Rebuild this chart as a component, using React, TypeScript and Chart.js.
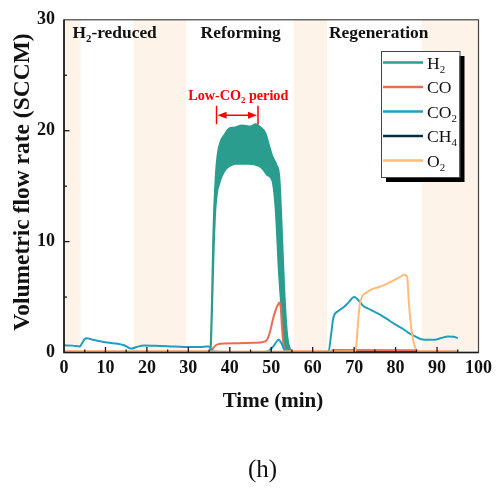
import { useEffect, useRef } from "react";
import { Chart, registerables } from "chart.js";

Chart.register(...registerables);

const FONT = "'Liberation Serif', 'Times New Roman', serif";

// Gas species and their line colours
const seriesNames = ["H2", "CO", "CO2", "CH4", "O2"];
const seriesColors = ["#2a9d8f", "#e76f51", "#219ebc", "#023047", "#ffbb77"];

// Process stages shown across the top
const stageNames = ["H2-reduced", "Reforming", "Regeneration"];

// Shaded transition windows (min)
const shadeStart = [0, 16.8, 55.4, 86.3];
const shadeEnd = [4, 29.5, 63.5, 100];

// H2 flow oscillates rapidly during reforming: upper and lower envelope of the trace
const h2UpperTime = [0, 35.2, 35.6, 36.0, 36.5, 37.0, 37.8, 38.6, 39.8, 41.0, 43.0, 45.0, 46.2, 47.5, 48.6, 49.5, 50.2, 51.3, 52.0, 52.5, 53.0, 53.5, 54.0, 54.6, 55.5, 95];
const h2UpperFlow = [0, 0, 4, 11, 15.5, 17.8, 19.1, 19.6, 20.2, 20.3, 20.5, 20.4, 20.6, 20.3, 19.8, 18.7, 17.8, 16.9, 15.8, 12, 7.3, 3.5, 1.2, 0.3, 0, 0];
const h2LowerTime = [0, 35.4, 35.7, 36.1, 36.5, 37.0, 37.4, 38.0, 39.0, 40.0, 41.4, 44.6, 47.0, 48.0, 49.0, 50.2, 51.0, 51.8, 52.5, 53.0, 53.5, 54.5, 95];
const h2LowerFlow = [0, 0, 3, 8.5, 12.5, 14.5, 15.1, 15.8, 16.5, 16.8, 17.0, 17.0, 16.8, 16.5, 16.0, 15.5, 13, 7.3, 3.5, 0.8, 0.2, 0, 0];

const coTime = [0, 35.5, 36.0, 36.8, 38, 42, 46, 48, 49, 49.8, 50.4, 51.0, 51.6, 52.0, 52.3, 52.6, 53.0, 53.6, 55, 64, 65, 85, 86, 95];
const coFlow = [0.08, 0.08, 0.4, 0.7, 0.8, 0.83, 0.88, 0.95, 1.15, 2.0, 3.0, 3.75, 4.3, 4.5, 4.0, 2.2, 0.6, 0.2, 0.08, 0.08, 0.22, 0.2, 0.08, 0.08];

const co2Time = [0, 2, 3.8, 4.3, 5.0, 5.5, 7, 9, 11, 13, 14.5, 15.5, 16.3, 17.5, 19.5, 22, 25, 29, 32, 34.2, 35.0, 35.6, 36.5, 40, 48, 49.4, 50.5, 51.8, 52.5, 53.4, 54.5, 63.8, 64.4, 65.0, 66.2, 67.5, 68.6, 70.0, 70.8, 72.2, 74, 75.8, 77.8, 79.8, 81.5, 83, 84.7, 86.2, 88, 89.4, 91, 92.6, 94, 95];
const co2Flow = [0.65, 0.62, 0.55, 0.8, 1.22, 1.28, 1.15, 1.0, 0.88, 0.78, 0.65, 0.45, 0.35, 0.5, 0.63, 0.6, 0.57, 0.5, 0.5, 0.53, 0.55, 0.2, 0.08, 0.05, 0.05, 0.15, 0.55, 1.15, 0.8, 0.1, 0.03, 0.03, 1.5, 3.15, 3.75, 4.1, 4.5, 5.0, 4.8, 4.2, 3.85, 3.5, 3.05, 2.55, 2.2, 1.8, 1.45, 1.2, 1.15, 1.15, 1.3, 1.45, 1.42, 1.3];

const ch4Time = [0, 95];
const ch4Flow = [0.02, 0.02];

const o2Time = [0, 70.2, 70.5, 70.9, 71.3, 72.0, 73.0, 74.2, 76.0, 77.4, 79.0, 80.0, 81.0, 82.2, 82.8, 83.2, 83.7, 84.3, 85.0, 86, 95];
const o2Flow = [0.08, 0.08, 0.6, 2.5, 4.2, 5.1, 5.4, 5.7, 5.9, 6.1, 6.4, 6.6, 6.8, 7.0, 6.8, 4.5, 2.5, 1.0, 0.25, 0.08, 0.08];

// Low-CO2 window marker (min, SCCM)
const lowCo2Start = 36.8;
const lowCo2End = 46.8;
const lowCo2Level = 21.4;
const lowCo2Label = "Low-CO2 period";

const SHADE = "#fdf3e8";

function pts(t: number[], v: number[]) {
  return t.map((x, i) => ({ x, y: v[i] }));
}

function chemParts(text: string) {
  const parts: { t: string; sub: boolean }[] = [];
  for (const ch of text) {
    const sub = /[0-9]/.test(ch);
    const last = parts[parts.length - 1];
    if (last && last.sub === sub) last.t += ch;
    else parts.push({ t: ch, sub });
  }
  return parts;
}

function drawChem(
  ctx: CanvasRenderingContext2D,
  text: string,
  x: number,
  y: number,
  size: number,
  weight: string,
  align: "left" | "center"
) {
  const subSize = size * 0.62;
  const fontOf = (s: number) => `${weight} ${s}px ${FONT}`;
  const parts = chemParts(text);
  let total = 0;
  const widths = parts.map((p) => {
    ctx.font = fontOf(p.sub ? subSize : size);
    const w = ctx.measureText(p.t).width;
    total += w;
    return w;
  });
  let cx = align === "center" ? x - total / 2 : x;
  ctx.textAlign = "left";
  ctx.textBaseline = "alphabetic";
  parts.forEach((p, i) => {
    ctx.font = fontOf(p.sub ? subSize : size);
    ctx.fillText(p.t, cx, p.sub ? y + size * 0.24 : y);
    cx += widths[i];
  });
}

const decorations = {
  id: "decorations",
  beforeDatasetsDraw(chart: any) {
    const { ctx, chartArea: a, scales } = chart;
    const xs = scales.x;
    ctx.save();
    ctx.fillStyle = SHADE;
    shadeStart.forEach((s, i) => {
      const x0 = xs.getPixelForValue(s);
      const x1 = xs.getPixelForValue(shadeEnd[i]);
      ctx.fillRect(x0, a.top, x1 - x0, a.bottom - a.top);
    });
    ctx.restore();
  },
  afterDatasetsDraw(chart: any) {
    const { ctx, chartArea: a, scales } = chart;
    const xs = scales.x;
    const ys = scales.y;
    ctx.save();

    // frame
    ctx.strokeStyle = "#444";
    ctx.lineWidth = 1.2;
    ctx.strokeRect(a.left, a.top, a.right - a.left, a.bottom - a.top);
    ctx.strokeStyle = "#1a1a1a";
    ctx.lineWidth = 1.6;
    ctx.beginPath();
    ctx.moveTo(a.left, a.top);
    ctx.lineTo(a.left, a.bottom);
    ctx.lineTo(a.right, a.bottom);
    ctx.stroke();

    // inward tick marks
    ctx.lineWidth = 1.3;
    for (let v = 5; v < 100; v += 5) {
      const px = xs.getPixelForValue(v);
      const len = v % 10 === 0 ? 5.5 : 3;
      ctx.beginPath();
      ctx.moveTo(px, a.bottom);
      ctx.lineTo(px, a.bottom - len);
      ctx.stroke();
    }
    for (let v = 5; v < 30; v += 5) {
      const py = ys.getPixelForValue(v);
      const len = v % 10 === 0 ? 5.5 : 3;
      ctx.beginPath();
      ctx.moveTo(a.left, py);
      ctx.lineTo(a.left + len, py);
      ctx.stroke();
    }

    // stage labels
    ctx.fillStyle = "#111";
    drawChem(ctx, stageNames[0], 72.5, 37.7, 17.4, "bold", "left");
    drawChem(ctx, stageNames[1], 240.7, 37.7, 17.4, "bold", "center");
    drawChem(ctx, stageNames[2], 378.7, 37.7, 17.4, "bold", "center");

    // low-CO2 window marker
    const ax0 = xs.getPixelForValue(lowCo2Start);
    const ax1 = xs.getPixelForValue(lowCo2End);
    const ay = ys.getPixelForValue(lowCo2Level);
    ctx.strokeStyle = "#ff0000";
    ctx.fillStyle = "#ff0000";
    ctx.lineWidth = 1.5;
    ctx.beginPath();
    ctx.moveTo(ax0, ay - 9.5);
    ctx.lineTo(ax0, ay + 9);
    ctx.moveTo(ax1, ay - 9.5);
    ctx.lineTo(ax1, ay + 9);
    ctx.moveTo(ax0 + 6, ay);
    ctx.lineTo(ax1 - 6, ay);
    ctx.stroke();
    const head = 9;
    const hw = 3.5;
    ctx.beginPath();
    ctx.moveTo(ax0 + 1, ay);
    ctx.lineTo(ax0 + 1 + head, ay - hw);
    ctx.lineTo(ax0 + 1 + head, ay + hw);
    ctx.closePath();
    ctx.fill();
    ctx.beginPath();
    ctx.moveTo(ax1 - 1, ay);
    ctx.lineTo(ax1 - 1 - head, ay - hw);
    ctx.lineTo(ax1 - 1 - head, ay + hw);
    ctx.closePath();
    ctx.fill();
    drawChem(ctx, lowCo2Label, (ax0 + ax1) / 2 + 1, ay - 15.5, 14.2, "bold", "center");

    // legend
    const lx = 381;
    const ly = 51;
    const lw = 78.5;
    const lh = 126;
    ctx.fillStyle = "#000";
    ctx.fillRect(lx + 5, ly + 5, lw, lh);
    ctx.fillStyle = "#fff";
    ctx.fillRect(lx, ly, lw, lh);
    ctx.strokeStyle = "#444";
    ctx.lineWidth = 1;
    ctx.strokeRect(lx + 0.5, ly + 0.5, lw, lh);
    seriesNames.forEach((name, i) => {
      const yy = 62.5 + 24.5 * i;
      ctx.strokeStyle = seriesColors[i];
      ctx.lineWidth = 2.5;
      ctx.beginPath();
      ctx.moveTo(lx + 2, yy);
      ctx.lineTo(lx + 42, yy);
      ctx.stroke();
      ctx.fillStyle = "#111";
      drawChem(ctx, name, lx + 46, yy + 6, 17.6, "normal", "left");
    });

    // axis titles and panel label
    ctx.fillStyle = "#111";
    ctx.font = `bold 23.5px ${FONT}`;
    ctx.textAlign = "center";
    ctx.textBaseline = "middle";
    ctx.save();
    ctx.translate(23, 182);
    ctx.rotate(-Math.PI / 2);
    ctx.fillText("Volumetric flow rate (SCCM)", 0, 0);
    ctx.restore();
    ctx.textBaseline = "alphabetic";
    ctx.font = `bold 21px ${FONT}`;
    ctx.fillText("Time (min)", 273, 407);
    ctx.font = `normal 25px ${FONT}`;
    ctx.fillText("(h)", 262.5, 476.5);

    ctx.restore();
  },
};

export default function App() {
  const ref = useRef<HTMLCanvasElement>(null);

  useEffect(() => {
    const canvas = ref.current;
    if (!canvas) return;
    const line = (label: string, data: { x: number; y: number }[], color: string, order: number, extra: any = {}) => ({
      label,
      data,
      borderColor: color,
      backgroundColor: color,
      borderWidth: 2,
      pointRadius: 0,
      cubicInterpolationMode: "monotone",
      fill: false,
      order,
      ...extra,
    });
    const chart = new Chart(canvas, {
      type: "line",
      data: {
        datasets: [
          line("H2", pts(h2UpperTime, h2UpperFlow), seriesColors[0], 6, { fill: "+1", borderWidth: 1.5 }),
          line("H2 (lower)", pts(h2LowerTime, h2LowerFlow), seriesColors[0], 5, { borderWidth: 1.5 }),
          line("CO", pts(coTime, coFlow), seriesColors[1], 4),
          line("CO2", pts(co2Time, co2Flow), seriesColors[2], 3),
          line("CH4", pts(ch4Time, ch4Flow), seriesColors[3], 2),
          line("O2", pts(o2Time, o2Flow), seriesColors[4], 1),
        ] as any,
      },
      options: {
        responsive: false,
        devicePixelRatio: 1,
        animation: false,
        layout: { padding: { top: 16, right: 16, left: 0, bottom: 0 } },
        plugins: { legend: { display: false }, tooltip: { enabled: false } },
        scales: {
          x: {
            type: "linear",
            min: 0,
            max: 100,
            ticks: { stepSize: 10, maxRotation: 0, padding: 5, color: "#111", font: { family: FONT, size: 18, weight: "bold" } },
            grid: { display: false, drawTicks: false },
            border: { display: false },
            afterFit: (s: any) => {
              s.height = 138.5;
            },
          },
          y: {
            type: "linear",
            min: 0,
            max: 30,
            ticks: { stepSize: 10, padding: 9, color: "#111", font: { family: FONT, size: 18, weight: "bold" } },
            grid: { display: false, drawTicks: false },
            border: { display: false },
            afterFit: (s: any) => {
              s.width = 64;
            },
          },
        },
      } as any,
      plugins: [decorations],
    });
    return () => chart.destroy();
  }, []);

  return (
    <div style={{ position: "fixed", left: 0, top: 0, width: 497, height: 491, background: "#fff" }}>
      <canvas ref={ref} width={497} height={491} style={{ display: "block", width: 497, height: 491 }} />
    </div>
  );
}
